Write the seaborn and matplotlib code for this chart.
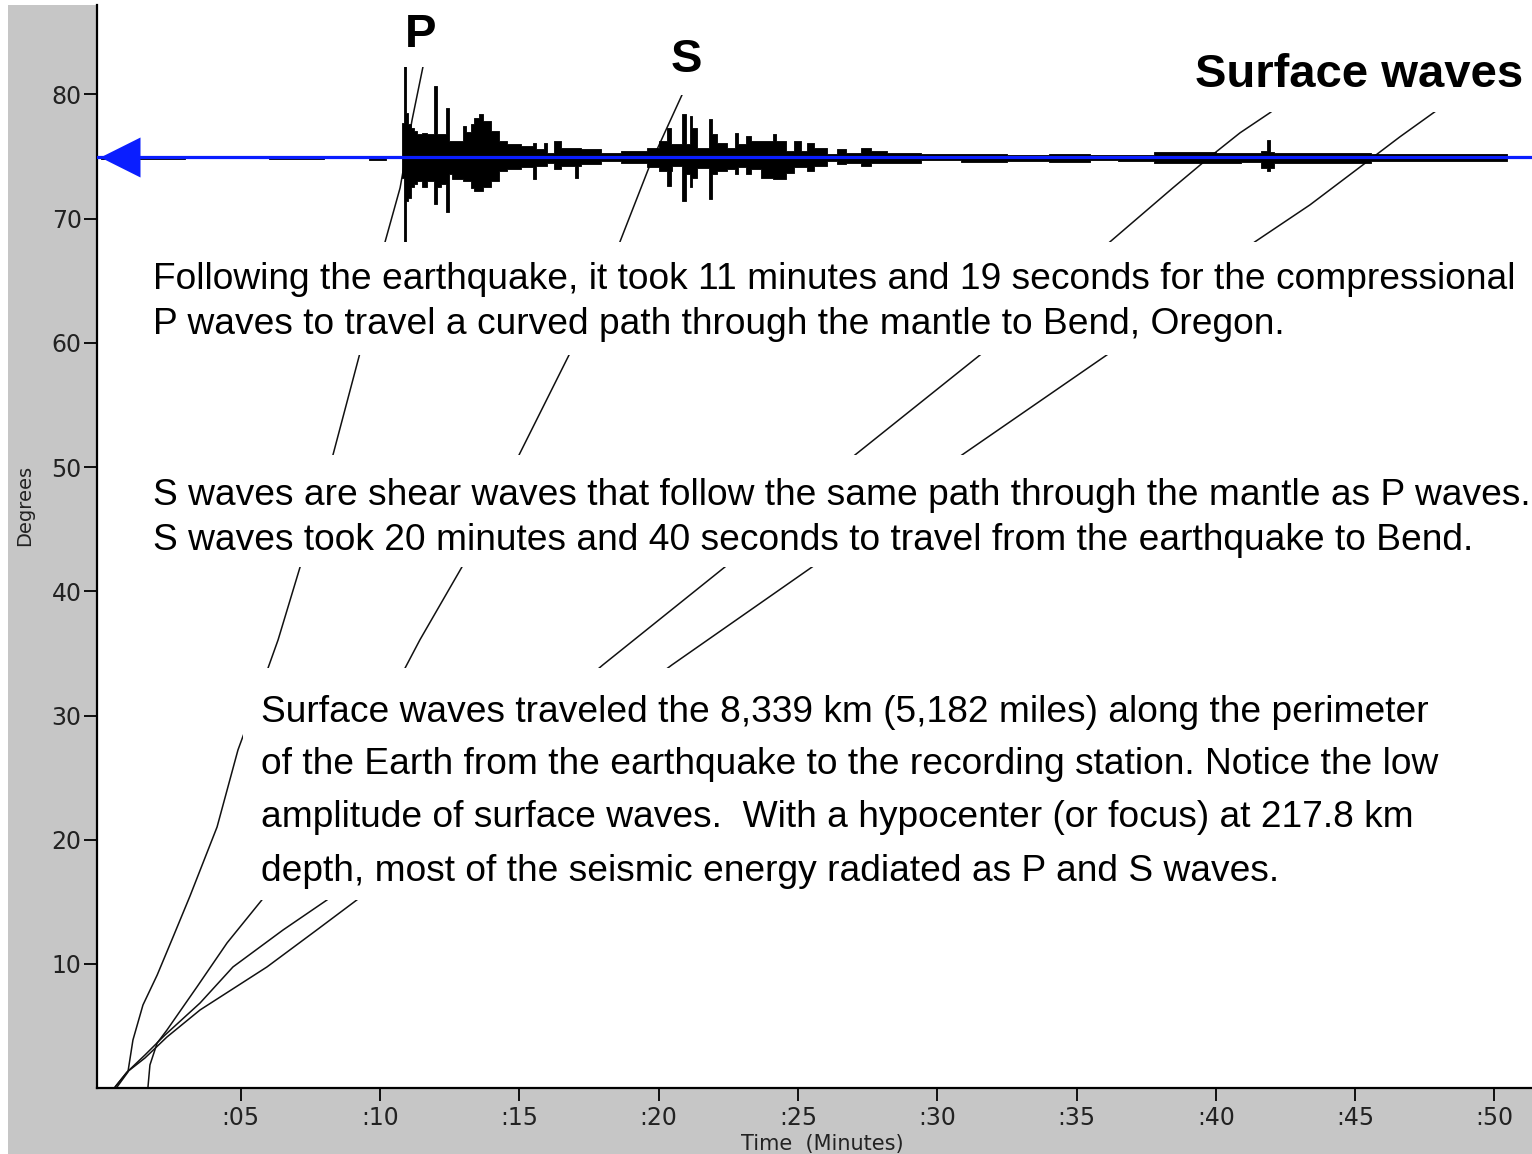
import numpy as np
import pandas as pd
import matplotlib
matplotlib.use("Agg")
import matplotlib.pyplot as plt
import seaborn as sns
from matplotlib.patches import Rectangle

# ---------------- data (minutes, degrees) ----------------
p_time = [0.56, 0.95, 1.13, 1.49, 2.00, 2.57, 3.18, 4.15, 4.90, 5.98, 6.34, 7.13,
          8.31, 9.28, 10.18, 10.72, 11.15, 11.54, 11.87]
p_deg = [0.10, 1.30, 3.88, 6.70, 9.11, 12.17, 15.48, 21.03, 27.23, 33.83, 36.09, 41.96,
         50.98, 59.19, 68.13, 72.48, 77.95, 82.22, 84.80]

s_time = [1.67, 1.74, 2.00, 2.35, 3.43, 4.51, 5.76, 10.90, 11.43, 12.94, 14.99, 16.82,
          18.61, 19.69, 20.84, 21.31]
s_deg = [0.10, 1.87, 3.64, 4.68, 8.16, 11.70, 15.16, 33.83, 36.09, 41.96, 50.98, 59.19,
         68.13, 74.33, 79.97, 82.38]

r1_time = [0.49, 0.92, 1.56, 2.28, 3.54, 4.72, 6.52, 8.10, 18.00, 22.38, 27.05, 31.54,
           36.20, 38.46, 39.79, 40.87, 41.94, 43.02]
r1_deg = [0.10, 1.30, 2.67, 4.28, 6.86, 9.76, 12.74, 15.16, 34.08, 41.96, 50.98, 59.03,
          68.13, 72.48, 74.98, 76.91, 78.52, 80.37]

r2_time = [0.49, 0.92, 1.56, 2.35, 3.54, 5.94, 7.73, 9.17, 20.48, 25.51, 30.89, 36.09,
           41.40, 43.38, 45.28, 46.61, 47.86, 48.94]
r2_deg = [0.10, 1.30, 2.43, 4.12, 6.30, 9.76, 12.74, 15.16, 34.08, 41.96, 50.98, 59.03,
          68.13, 71.11, 74.33, 76.59, 78.60, 80.37]

station_deg = 75.0

trace_time = [0.0, 3.0, 6.0, 8.0, 9.6, 10.2,
              10.80, 10.86, 10.94, 11.00, 11.10, 11.22, 11.34, 11.50, 11.70, 11.94,
              12.04, 12.20, 12.36, 12.48, 12.60, 12.96, 13.10, 13.26, 13.38, 13.55,
              13.70, 13.97, 14.27, 14.57, 15.05, 15.50, 15.60, 15.89, 16.00, 16.25,
              16.49, 17.00, 17.10, 17.20, 17.92, 18.64, 19.60, 20.02, 20.31, 20.43,
              20.49, 20.85, 20.97, 21.12, 21.20, 21.39, 21.80, 21.90, 22.11, 22.47,
              22.75, 22.85, 23.13, 23.31, 23.66, 24.10, 24.20, 24.56, 24.86, 25.10,
              25.34, 25.58, 26.06, 26.42, 26.72, 27.25, 27.61, 28.21, 29.41,
              30.84, 32.5, 34.0, 35.5, 36.5, 37.78, 40.0, 40.9, 41.61, 41.85,
              41.95, 42.09, 45.56, 50.46]
trace_up = [0.06, 0.06, 0.08, 0.06, 0.08, 0.06,
            2.73, 9.0, 3.54, 2.6, 2.33, 2.06, 1.8, 1.9, 1.8, 5.68,
            1.8, 1.8, 3.94, 1.26, 1.26, 2.47, 2.0, 2.6, 3.14, 3.4,
            2.87, 2.06, 1.26, 1.0, 0.86, 1.13, 0.59, 1.13, 0.32, 1.26,
            0.72, 0.72, 0.72, 0.59, 0.32, 0.46, 0.72, 1.26, 2.33, 0.99,
            0.99, 3.4, 0.99, 3.26, 2.33, 0.7, 3.0, 1.8, 1.13, 0.72,
            1.93, 0.99, 1.66, 1.26, 1.26, 1.8, 1.26, 0.46, 1.26, 0.46,
            1.13, 0.72, 0.19, 0.59, 0.25, 0.72, 0.46, 0.32, 0.22,
            0.2, 0.15, 0.2, 0.1, 0.15, 0.35, 0.3, 0.28, 0.42, 1.31,
            0.4, 0.3, 0.2, 0.0]
trace_down = [0.2, 0.15, 0.2, 0.12, 0.3, 0.15,
              1.69, 9.0, 3.57, 3.3, 2.49, 2.23, 2.0, 2.49, 1.96, 3.83,
              2.49, 2.2, 4.5, 1.42, 1.8, 1.96, 1.96, 2.5, 2.76, 2.76,
              2.49, 1.96, 1.15, 1.02, 0.88, 1.82, 0.75, 0.75, 0.48, 1.02,
              0.75, 1.69, 0.75, 0.62, 0.35, 0.48, 0.88, 1.15, 2.36, 1.15,
              0.75, 3.57, 1.42, 2.49, 1.69, 0.9, 3.43, 1.42, 1.15, 1.02,
              1.42, 0.88, 1.42, 1.02, 1.7, 1.82, 1.82, 1.29, 0.88, 0.88,
              1.15, 0.75, 0.35, 0.62, 0.48, 0.75, 0.48, 0.48, 0.3,
              0.4, 0.35, 0.4, 0.3, 0.35, 0.55, 0.5, 0.45, 0.95, 1.15,
              0.95, 0.5, 0.38, 0.0]

x_ticks = [5, 10, 15, 20, 25, 30, 35, 40, 45, 50]
x_tick_labels = [":05", ":10", ":15", ":20", ":25", ":30", ":35", ":40", ":45", ":50"]
y_ticks = [10, 20, 30, 40, 50, 60, 70, 80]

# ---------------- figure ----------------
sns.set_theme(style="ticks")
plt.rcParams["font.family"] = ["DejaVu Sans"]

W, H = 1532, 1154
GRAY = "#c6c6c6"
BLUE = "#0a1eff"
fig = plt.figure(figsize=(W / 100, H / 100), dpi=100, facecolor=GRAY)
fig.patches.append(Rectangle((0, 0), 8 / W, 1, transform=fig.transFigure,
                             facecolor="white", edgecolor="none", zorder=-1))
fig.patches.append(Rectangle((0, 1 - 5 / H), 1, 5 / H, transform=fig.transFigure,
                             facecolor="white", edgecolor="none", zorder=-1))

ax_left, ax_bottom_px, ax_top_px = 97, 1088.2, 5
ax = fig.add_axes([ax_left / W, (H - ax_bottom_px) / H, (W - ax_left) / W,
                   (ax_bottom_px - ax_top_px) / H])
ax.set_facecolor("white")
ax.set_xlim(-0.16, 51.35)
ax.set_ylim(0, 87.2)

# travel-time curves
curves = pd.concat([
    pd.DataFrame({"time": p_time, "deg": p_deg, "phase": "P"}),
    pd.DataFrame({"time": s_time, "deg": s_deg, "phase": "S"}),
    pd.DataFrame({"time": r1_time, "deg": r1_deg, "phase": "R1"}),
    pd.DataFrame({"time": r2_time, "deg": r2_deg, "phase": "R2"}),
], ignore_index=True)
sns.lineplot(data=curves, x="time", y="deg", units="phase", estimator=None,
             sort=False, color="#111111", lw=1.1, ax=ax, zorder=2)

# seismogram
tt = np.array(trace_time)
ax.fill_between(tt, station_deg + np.array(trace_up), station_deg - np.array(trace_down),
                step="post", color="black", lw=0.6, zorder=3)
ax.axhline(station_deg, color=BLUE, lw=2.3, zorder=4)
ax.plot([0.67], [station_deg], marker="<", ms=29, color=BLUE, mec="none",
        zorder=4, clip_on=False)

# white boxes hiding curves under the notes (pixel coords, y from top)
def px_box(x0, y0, x1, y1):
    ax.add_patch(Rectangle((x0 / W, 1 - y1 / H), (x1 - x0) / W, (y1 - y0) / H,
                           transform=fig.transFigure, facecolor="white",
                           edgecolor="none", zorder=5))

px_box(380, 0, 465, 67)
px_box(645, 0, 725, 95)
px_box(1180, 0, W, 112)
px_box(140, 242, W, 355)
px_box(140, 455, W, 567)
px_box(243, 668, 1460, 900)

def px_text(x, y, s, **kw):
    fig.text(x / W, 1 - y / H, s, zorder=6, **kw)

note = dict(fontsize=26.7, family="Liberation Sans", color="black", ha="left", va="baseline")
px_text(153, 289.3, "Following the earthquake, it took 11 minutes and 19 seconds for the compressional", **note)
px_text(153, 334, "P waves to travel a curved path through the mantle to Bend, Oregon.", **note)
px_text(153, 505, "S waves are shear waves that follow the same path through the mantle as P waves.", **note)
px_text(153, 550, "S waves took 20 minutes and 40 seconds to travel from the earthquake to Bend.", **note)
px_text(261, 721.7, "Surface waves traveled the 8,339 km (5,182 miles) along the perimeter", **note)
px_text(261, 773.5, "of the Earth from the earthquake to the recording station. Notice the low", **note)
px_text(261, 826.7, "amplitude of surface waves.  With a hypocenter (or focus) at 217.8 km", **note)
px_text(261, 880.7, "depth, most of the seismic energy radiated as P and S waves.", **note)

lab = dict(fontsize=34, family="Liberation Sans", fontweight="bold", color="black", va="baseline")
px_text(421, 46.7, "P", ha="center", **lab)
px_text(686, 71.5, "S", ha="center", **lab)
px_text(1195, 86.7, "Surface waves", ha="left", **lab)

# axes styling
ax.set_xticks(x_ticks)
ax.set_xticklabels(x_tick_labels)
ax.set_yticks(y_ticks)
for side in ("top", "right"):
    ax.spines[side].set_visible(False)
for side in ("left", "bottom"):
    ax.spines[side].set_linewidth(1.6)
    ax.spines[side].set_color("black")
ax.tick_params(axis="both", direction="out", length=9.5, width=1.3, colors="black",
               labelcolor="#222222", labelsize=17)
ax.tick_params(axis="x", pad=3)
ax.tick_params(axis="y", pad=1.5)
ax.set_xlabel("")
ax.set_ylabel("")
px_text(25, 505, "Degrees", rotation=90, ha="center", va="center", fontsize=14, color="#222222")
px_text(822, 1144, "Time  (Minutes)", ha="center", va="center", fontsize=15, color="#222222")

fig.savefig("out.png", dpi=100, facecolor=fig.get_facecolor())
